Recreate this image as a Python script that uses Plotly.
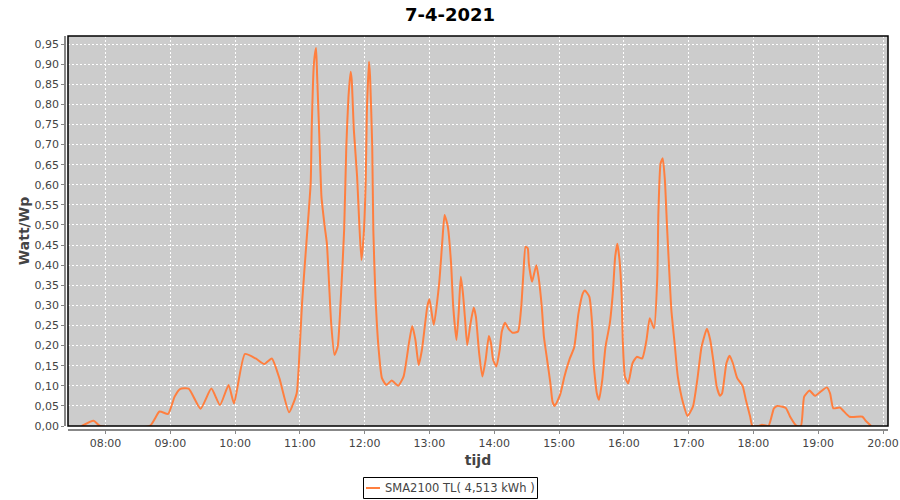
import plotly.graph_objects as go

times = ["07:38","07:49","07:55","08:41","08:50","08:58","09:04","09:09","09:17","09:28",
         "09:38","09:46","09:54","09:59","10:09","10:19","10:27","10:34","10:41","10:50",
         "10:57","10:59","11:02","11:06","11:10","11:11","11:13","11:15","11:16","11:18",
         "11:20","11:23","11:25","11:27","11:29","11:32","11:35","11:38","11:41","11:43",
         "11:45","11:47","11:48","11:50","11:53","11:55","11:57","11:59","12:01","12:02",
         "12:04","12:05","12:07","12:08","12:10","12:13","12:16","12:20","12:25","12:31",
         "12:36","12:41","12:44","12:47","12:50","12:53","12:58","13:00","13:04","13:09",
         "13:12","13:14","13:17","13:20","13:22","13:25","13:27","13:29","13:31","13:33",
         "13:35","13:38","13:41","13:43","13:46","13:49","13:52","13:55","13:57","13:59",
         "14:02","14:05","14:07","14:10","14:13","14:17","14:22","14:25","14:27","14:29",
         "14:31","14:32","14:35","14:37","14:39","14:41","14:44","14:46","14:49","14:52",
         "14:54","14:56","15:01","15:05","15:10","15:14","15:18","15:22","15:24","15:28",
         "15:31","15:32","15:35","15:37","15:40","15:43","15:47","15:50","15:52","15:54",
         "15:56","15:58","15:59","16:01","16:04","16:08","16:12","16:17","16:21","16:24",
         "16:28","16:31","16:32","16:34","16:36","16:38","16:40","16:42","16:44","16:47",
         "16:50","16:55","16:59","17:04","17:08","17:12","17:17","17:20","17:23","17:26",
         "17:29","17:31","17:35","17:38","17:41","17:45","17:50","17:53","17:57","17:59",
         "18:05","18:08","18:14","18:19","18:22","18:30","18:34","18:40","18:44","18:47",
         "18:52","18:57","19:02","19:08","19:11","19:14","19:20","19:29","19:41","19:44",
         "19:49"]
watt_wp = [0.0,0.013,0.0,0.0,0.036,0.030,0.073,0.092,0.093,0.043,
           0.093,0.052,0.102,0.056,0.179,0.168,0.154,0.168,0.119,0.034,
           0.081,0.150,0.305,0.454,0.604,0.745,0.902,0.940,0.869,0.720,
           0.570,0.496,0.454,0.355,0.255,0.177,0.197,0.322,0.488,0.695,
           0.819,0.881,0.861,0.736,0.620,0.504,0.413,0.471,0.612,0.778,
           0.906,0.869,0.695,0.488,0.322,0.189,0.119,0.102,0.113,0.100,
           0.123,0.206,0.249,0.214,0.152,0.189,0.297,0.315,0.251,0.355,
           0.463,0.525,0.496,0.405,0.297,0.214,0.280,0.371,0.330,0.264,
           0.201,0.255,0.295,0.272,0.181,0.123,0.164,0.224,0.206,0.164,
           0.148,0.189,0.235,0.257,0.243,0.232,0.235,0.297,0.380,0.446,
           0.442,0.405,0.359,0.380,0.400,0.371,0.297,0.222,0.164,0.106,
           0.060,0.050,0.078,0.123,0.168,0.195,0.280,0.330,0.337,0.322,
           0.239,0.156,0.081,0.065,0.114,0.197,0.255,0.338,0.421,0.453,
           0.413,0.322,0.214,0.123,0.106,0.156,0.172,0.168,0.214,0.268,
           0.243,0.371,0.529,0.653,0.666,0.612,0.496,0.388,0.289,0.206,
           0.123,0.056,0.025,0.048,0.114,0.197,0.242,0.214,0.160,0.098,
           0.075,0.081,0.156,0.175,0.156,0.119,0.100,0.065,0.023,0.0,
           0.0,0.003,0.0,0.044,0.050,0.045,0.023,0.0,0.0,0.073,
           0.088,0.075,0.085,0.096,0.081,0.044,0.046,0.023,0.023,0.013,
           0.0]

date = "2021-04-07"
series_name = "SMA2100 TL( 4,513 kWh )"
title_text = "7-4-2021"
x_title = "tijd"
y_title = "Watt/Wp"
y_ticks = [0.00,0.05,0.10,0.15,0.20,0.25,0.30,0.35,0.40,0.45,0.50,0.55,0.60,0.65,0.70,0.75,0.80,0.85,0.90,0.95]

xs = [f"{date} {t}:00" for t in times]
line_color = "#FF7F3F"
txt = "#444444"

fig = go.Figure()
fig.add_trace(go.Scatter(x=xs, y=watt_wp, mode="lines", name=series_name,
                         line=dict(color=line_color, width=2, shape="spline", smoothing=0.5),
                         showlegend=False))

W, H = 900, 500
ml, mr, mt, mb = 65, 12, 36, 70
pw = W - ml - mr
ph = H - mt - mb


def px(xp):
    return (xp - ml) / pw


def py(yp):
    return (H - mb - yp) / ph


fig.update_layout(
    width=W, height=H,
    margin=dict(l=ml, r=mr, t=mt, b=mb, autoexpand=False),
    paper_bgcolor="white",
    plot_bgcolor="#CCCCCC",
    separators=",.",
    font=dict(family="DejaVu Sans", size=11, color=txt),
    title=dict(text=title_text, x=0.5, xanchor="center", y=1 - 15 / H, yanchor="middle",
               font=dict(family="DejaVu Sans", size=18, color="black", weight="bold")),
    showlegend=False,
    xaxis=dict(
        type="date",
        domain=[3 / pw, 1],
        anchor="free", position=0,
        automargin=False,
        range=[f"{date} 07:25:16", f"{date} 20:04:38"],
        dtick=3600000, tick0=f"{date} 08:00", tickformat="%H:%M",
        showgrid=True, gridcolor="white", griddash="2px,2px", gridwidth=1,
        showline=True, linecolor="#888888", linewidth=1.5,
        ticks="outside", ticklen=3, tickcolor="#888888",
        tickfont=dict(family="DejaVu Sans", size=11, color=txt),
        title=dict(text=x_title, standoff=5,
                   font=dict(family="DejaVu Sans", size=14, color=txt, weight="bold")),
        zeroline=False,
    ),
    yaxis=dict(
        domain=[4 / ph, 1],
        anchor="free", position=0,
        automargin=False,
        range=[0, 0.97],
        tickvals=y_ticks, tickformat=".2f",
        showgrid=True, gridcolor="white", griddash="2px,2px", gridwidth=1,
        showline=True, linecolor="#888888", linewidth=1.5,
        ticks="outside", ticklen=3, tickcolor="#888888",
        tickfont=dict(family="DejaVu Sans", size=11, color=txt),
        title=dict(text=y_title, standoff=1,
                   font=dict(family="DejaVu Sans", size=14, color=txt, weight="bold")),
        zeroline=False,
    ),
)

# plot border
fig.add_shape(type="rect", xref="x domain", yref="y domain", x0=0, x1=1, y0=0, y1=1,
              line=dict(color="black", width=1.5), fillcolor="rgba(0,0,0,0)", layer="above")

# legend box (drawn to match the compact JFreeChart legend)
fig.add_shape(type="rect", xref="paper", yref="paper", x0=px(363.5), x1=px(537.5),
              y0=py(498.5), y1=py(477.5), line=dict(color="black", width=1),
              fillcolor="white")
fig.add_shape(type="line", xref="paper", yref="paper", x0=px(366), x1=px(380),
              y0=py(488), y1=py(488), line=dict(color=line_color, width=2))
fig.add_annotation(text=series_name, xref="paper", yref="paper", x=px(383), y=py(488),
                   xanchor="left", yanchor="middle", showarrow=False,
                   font=dict(family="DejaVu Sans", size=11.5, color=txt))

fig.write_html("out.html", config={"displayModeBar": False},
               post_script="document.body.style.margin='0';")
